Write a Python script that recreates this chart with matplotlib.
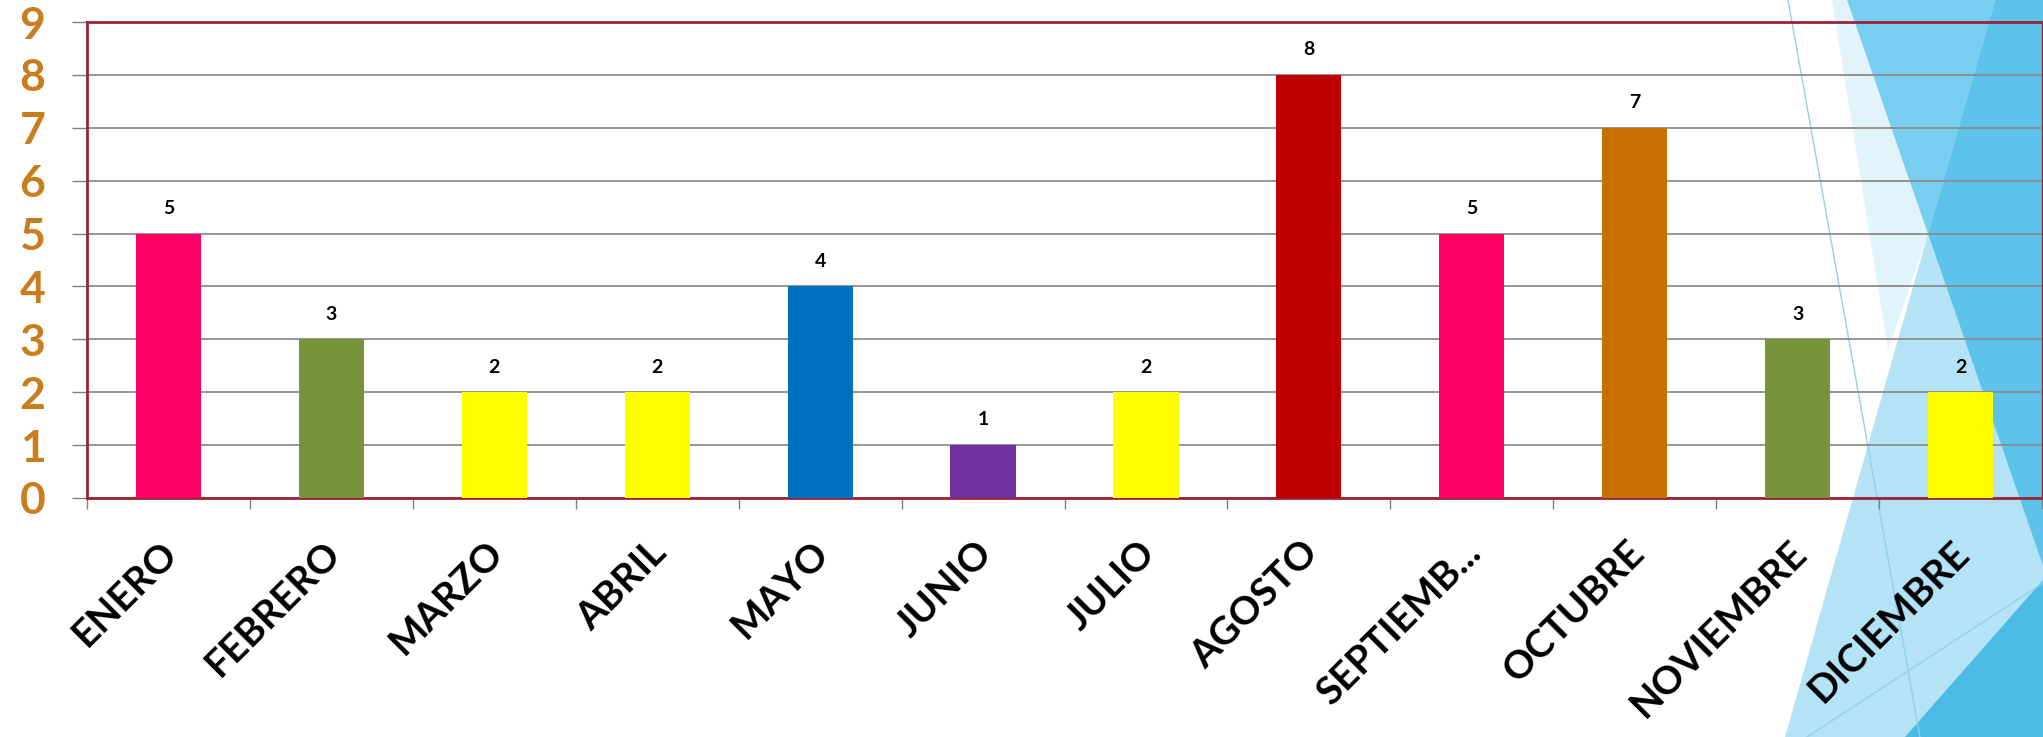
import matplotlib
matplotlib.use("Agg")
import matplotlib.pyplot as plt
from matplotlib.patches import Polygon

# datos del gráfico
meses = ["ENERO", "FEBRERO", "MARZO", "ABRIL", "MAYO", "JUNIO", "JULIO",
         "AGOSTO", "SEPTIEMB...", "OCTUBRE", "NOVIEMBRE", "DICIEMBRE"]
valores = [5, 3, 2, 2, 4, 1, 2, 8, 5, 7, 3, 2]
colores = ["#FF0066", "#77933C", "#FFFF00", "#FFFF00", "#0070C0", "#7030A0",
           "#FFFF00", "#C00000", "#FF0066", "#C96E00", "#77933C", "#FFFF00"]
yticks = list(range(0, 10))

W, H = 2043, 737
fig = plt.figure(figsize=(W / 100, H / 100), dpi=100)
fig.patch.set_facecolor("white")

# ---- fondo decorativo (triángulos azules a la derecha) ----
bg = fig.add_axes([0, 0, 1, 1], zorder=0)
bg.set_xlim(0, W)
bg.set_ylim(H, 0)
bg.axis("off")
formas = [
    ([(1832, 0), (1847, 0), (1928, 234), (1888, 350)], "#E2F4FB"),
    ([(1928, 234), (2043, 566), (2043, 737), (1785, 737)], "#B5E3F6"),
    ([(1847, 0), (1995, 0), (1928, 234)], "#78CEF0"),
    ([(1995, 0), (2043, 0), (2043, 566), (1928, 234)], "#5DC3EB"),
    ([(1905, 737), (2043, 737), (2043, 580)], "#4BBBE6"),
]
for pts, c in formas:
    bg.add_patch(Polygon(pts, closed=True, facecolor=c, edgecolor="none"))
bg.plot([1788, 1920], [0, 737], color="#8FD1EE", lw=1)
bg.plot([1807, 2043], [737, 583], color="#8FD1EE", lw=1)

# ---- gráfico de barras ----
ax = fig.add_axes([87 / W, 1 - 498 / H, (2042 - 87) / W, (498 - 22) / H], zorder=1)
ax.set_facecolor("none")

x = list(range(len(meses)))
ax.bar(x, valores, width=0.4, color=colores, zorder=3)
for xi, v in zip(x, valores):
    ax.annotate(str(v), (xi, v), xytext=(0, 12), textcoords="offset points",
                ha="center", va="bottom", fontsize=14, fontweight="bold",
                family="Lato", color="black")

ax.set_xlim(-0.5, len(meses) - 0.5)
ax.set_ylim(0, 9)

ax.set_yticks(yticks)
ax.set_yticklabels([str(t) for t in yticks], fontsize=32, fontweight="bold",
                   family="Lato", color="#C97D1C")
ax.tick_params(axis="y", length=11, width=1, color="#7F7F7F", pad=19)
ax.yaxis.grid(True, color="#8C8C8C", lw=1.3, zorder=1)

ax.set_xticks([i - 0.5 for i in range(len(meses) + 1)])
ax.set_xticklabels([])
ax.tick_params(axis="x", which="major", length=8, width=1, color="#7F7F7F")
for xi, m in zip(x, meses):
    ax.text(xi + 0.02, -0.92, m, rotation=45, rotation_mode="anchor",
            ha="right", va="center", fontsize=28, fontweight="bold",
            family="Lato", color="black")

for s in ax.spines.values():
    s.set_color("#9B2335")
    s.set_linewidth(2)
ax.spines["right"].set_linewidth(1)

fig.savefig("out.png", dpi=100)
